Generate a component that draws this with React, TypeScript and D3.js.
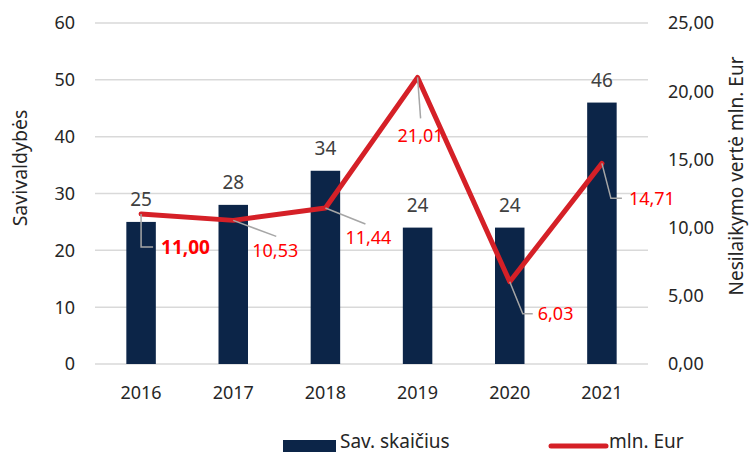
import React from "react";
import * as d3 from "d3";

const years = ["2016", "2017", "2018", "2019", "2020", "2021"];
const savCount = [25, 28, 34, 24, 24, 46];
const mlnEur = [11.0, 10.53, 11.44, 21.01, 6.03, 14.71];
const leftTicks = [0, 10, 20, 30, 40, 50, 60];
const rightTicks = [0, 5, 10, 15, 20, 25];

// label layout: leader path offsets (relative to point) and label position offsets
const labelLayout = [
  { path: [[0, 0], [0, 33], [12, 33]], tx: 20, ty: 33, anchor: "start", bold: true },
  { path: [[0, 0], [43, 16]], tx: 42, ty: 30, anchor: "middle", bold: false },
  { path: [[0, 0], [40, 16]], tx: 43, ty: 30, anchor: "middle", bold: false },
  { path: [[0, 0], [3, 41]], tx: 3, ty: 58, anchor: "middle", bold: false },
  { path: [[0, 0], [13, 32], [23, 32]], tx: 28, ty: 32, anchor: "start", bold: false },
  { path: [[0, 0], [9, 35], [20, 35]], tx: 27, ty: 35, anchor: "start", bold: false },
];

const W = 750;
const H = 454;
const M = { left: 95, right: 648, top: 23, bottom: 364 };
const FONT = "'Noto Sans', 'Open Sans', sans-serif";
const fmt = (v: number) => v.toFixed(2).replace(".", ",");

export default function App() {
  const x = d3.scaleBand<string>().domain(years).range([M.left, M.right]).paddingInner(0.68).paddingOuter(0.34);
  const yL = d3.scaleLinear().domain([0, 60]).range([M.bottom, M.top]);
  const yR = d3.scaleLinear().domain([0, 25]).range([M.bottom, M.top]);
  const cx = (y: string) => (x(y) as number) + x.bandwidth() / 2;
  const line = d3
    .line<number>()
    .x((_, i) => cx(years[i]))
    .y((d) => yR(d));

  return (
    <svg width={W} height={H} style={{ position: "absolute", left: 0, top: 0, background: "#fff" }} fontFamily={FONT}>
      {leftTicks.map((t) => (
        <g key={"g" + t}>
          <line x1={M.left} x2={M.right} y1={yL(t)} y2={yL(t)} stroke="#d9d9d9" strokeWidth={1.5} />
          <text x={75} y={yL(t)} dy="0.36em" textAnchor="end" fontSize={18} fill="#262626">
            {t}
          </text>
        </g>
      ))}
      {rightTicks.map((t) => (
        <text key={"r" + t} x={668} y={yR(t)} dy="0.36em" textAnchor="start" fontSize={18} fill="#262626">
          {fmt(t)}
        </text>
      ))}
      <text transform={`translate(27,168) rotate(-90)`} textAnchor="middle" fontSize={19.5} fill="#262626">
        Savivaldybės
      </text>
      <text transform={`translate(743,176) rotate(-90)`} textAnchor="middle" fontSize={19} fill="#262626">
        Nesilaikymo vertė mln. Eur
      </text>
      {years.map((y) => (
        <text key={"x" + y} x={cx(y)} y={399} textAnchor="middle" fontSize={18} fill="#262626">
          {y}
        </text>
      ))}
      {years.map((y, i) => (
        <g key={"b" + y}>
          <rect x={x(y)} y={yL(savCount[i])} width={x.bandwidth()} height={M.bottom - yL(savCount[i])} fill="#0c2548" />
          <text x={cx(y)} y={yL(savCount[i]) - 16} textAnchor="middle" fontSize={19} fill="#404040">
            {savCount[i]}
          </text>
        </g>
      ))}
      <path d={line(mlnEur) as string} fill="none" stroke="#d52027" strokeWidth={5} strokeLinejoin="round" strokeLinecap="round" />
      {mlnEur.map((v, i) => {
        const px = cx(years[i]);
        const py = yR(v);
        const L = labelLayout[i];
        const pts = L.path.map(([dx, dy]) => [px + dx, py + dy] as [number, number]);
        return (
          <g key={"l" + i}>
            <path d={d3.line()(pts) as string} fill="none" stroke="#a6a6a6" strokeWidth={1.5} />
            <text
              x={px + L.tx}
              y={py + L.ty}
              dy="0.36em"
              textAnchor={L.anchor as any}
              fontSize={L.bold ? 19 : 18}
              fontWeight={L.bold ? "bold" : "normal"}
              fill="#ff0000"
            >
              {fmt(v)}
            </text>
          </g>
        );
      })}
      <rect x={283} y={440} width={53} height={12} fill="#0c2548" />
      <text x={340} y={448} fontSize={19} fill="#262626">
        Sav. skaičius
      </text>
      <line x1={551} x2={606} y1={446} y2={446} stroke="#d52027" strokeWidth={5} strokeLinecap="round" />
      <text x={609} y={448} fontSize={19} fill="#262626">
        mln. Eur
      </text>
    </svg>
  );
}
